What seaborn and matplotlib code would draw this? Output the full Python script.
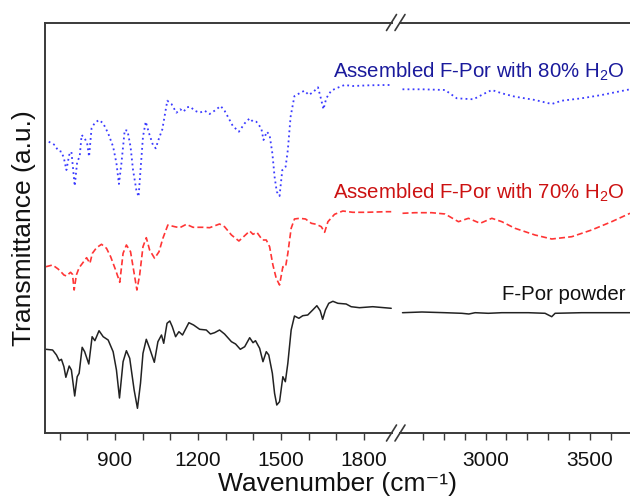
import numpy as np
import pandas as pd
import matplotlib
matplotlib.use("Agg")
import matplotlib.pyplot as plt
from matplotlib.lines import Line2D
import seaborn as sns

# ---------------- data (wavenumber cm^-1, transmittance a.u. with offsets) ----------------
# F-Por powder (black, solid)
wn_black_lo = [650, 674, 688, 698, 706, 715, 722, 734, 742, 754, 763, 770, 781, 790, 805, 817, 827, 842,
               857, 875, 893, 905, 916, 929, 941, 953, 969, 981, 992, 1001, 1013, 1025, 1042, 1055, 1068,
               1076, 1088, 1098, 1107, 1119, 1131, 1144, 1167, 1184, 1206, 1230, 1245, 1260, 1278, 1296,
               1321, 1336, 1353, 1369, 1387, 1399, 1408, 1423, 1435, 1447, 1456, 1469, 1477, 1485, 1495,
               1507, 1516, 1525, 1537, 1549, 1565, 1579, 1597, 1615, 1630, 1642, 1651, 1661, 1673, 1688,
               1706, 1736, 1754, 1784, 1832, 1899]
t_black_lo = [83.7, 83, 78, 72.3, 73.7, 66.3, 55.7, 67, 63, 37, 56.3, 59.7, 85.7, 81.3, 69, 96.3, 92.3, 102.3,
              96.3, 93, 81.3, 63, 35, 71.3, 82.3, 74.7, 43, 24.7, 49.7, 79.7, 93.7, 84.7, 70.7, 91.3, 98,
              89.7, 109.7, 112, 106.3, 96.3, 101.3, 98, 110.3, 108, 103.7, 103, 99, 100.3, 103, 99,
              91.3, 89, 83.7, 86.3, 95.3, 90.3, 92.3, 84.7, 71.3, 81.3, 78, 59.7, 39.7, 28, 31.3,
              56.3, 51.3, 69.7, 103, 117, 114.7, 117.3, 118, 123, 127.3, 122.3, 113.7, 123, 129.7, 131.7,
              129.7, 129, 126.3, 125.3, 126.3, 124.7]
wn_black_hi = [2602, 2695, 2806, 2886, 2920, 2950, 3013, 3078, 3205, 3285, 3317, 3333, 3460, 3588, 3692]
t_black_hi = [120.3, 121, 120.3, 119.7, 119.0, 120.3, 119.7, 120.3, 120.3, 119.7, 116.3, 119.7, 120.3, 120.3, 120.3]

# Assembled F-Por with 70% H2O (red, dashed)
wn_red_lo = [650, 674, 694, 706, 715, 724, 739, 746, 752, 760, 770, 782, 797, 809, 818, 833, 851, 869, 884,
             902, 917, 929, 941, 956, 969, 979, 989, 1001, 1013, 1025, 1043, 1059, 1073, 1091, 1116, 1134,
             1158, 1182, 1218, 1242, 1278, 1296, 1321, 1348, 1365, 1387, 1399, 1413, 1433, 1447, 1459,
             1471, 1483, 1495, 1507, 1517, 1525, 1537, 1549, 1567, 1589, 1610, 1628, 1646, 1658, 1670,
             1694, 1724, 1760, 1808, 1881, 1899]
t_red_lo = [166.3, 168, 164, 160.7, 158, 157, 160.7, 158.7, 143, 158, 165.3, 169.7, 175.3, 169.7, 179.7,
            185.3, 188.7, 184.7, 176.3, 163, 150.7, 179.7, 188, 181.3, 159.7, 143, 158, 186.3, 195.3, 183,
            174.7, 181.3, 194.7, 208, 206.3, 205.3, 208.7, 205.7, 205.7, 205.3, 209, 206.3, 198, 192,
            196.3, 202, 198.7, 200.7, 193, 193, 186.3, 168, 154.7, 148, 166.3, 166.3, 179.7, 204.7, 214,
            214.7, 214, 209.7, 208.7, 206.3, 200.7, 211.3, 218.7, 222, 220.7, 220.7, 221.3, 221.3]
wn_red_hi = [2602, 2662, 2742, 2806, 2870, 2918, 2974, 3030, 3078, 3141, 3237, 3317, 3413, 3508, 3604, 3692]
t_red_hi = [219.7, 220.3, 220.3, 219, 211.3, 214.7, 209.7, 214.7, 211.3, 204.7, 198, 194, 196.3, 203,
            211.3, 219.7]

# Assembled F-Por with 80% H2O (blue, dotted)
wn_blue_lo = [660, 682, 694, 706, 715, 724, 734, 742, 748, 754, 763, 772, 779, 790, 799, 806, 815, 827, 842,
              857, 875, 893, 905, 914, 923, 935, 945, 956, 965, 977, 985, 993, 1001, 1011, 1023, 1037,
              1047, 1059, 1071, 1081, 1089, 1104, 1122, 1136, 1148, 1160, 1172, 1188, 1206, 1224, 1242,
              1260, 1282, 1296, 1308, 1326, 1348, 1369, 1387, 1399, 1411, 1429, 1437, 1449, 1459, 1469,
              1477, 1485, 1495, 1505, 1517, 1525, 1535, 1549, 1567, 1585, 1601, 1618, 1634, 1643, 1654,
              1664, 1682, 1700, 1730, 1760, 1820, 1881, 1899]
t_blue_lo = [291.3, 288, 282.3, 281.3, 274.7, 263, 278, 281.3, 264.7, 247, 271.3, 276.3, 298, 294.7, 289.7,
             276.3, 304.7, 310.3, 313, 309.7, 299.7, 286.3, 269.7, 249, 269.7, 303, 302.3, 286.3, 263, 243,
             236.3, 266.3, 296.3, 311.3, 299.7, 288, 284.7, 294.7, 303.7, 319.7, 332.3, 329, 320.3, 323.7,
             321.3, 325.7, 326.3, 322.3, 320.3, 322.3, 319, 322.3, 327, 322.3, 316.3, 307, 301.3, 309.7,
             314.7, 311.3, 311.3, 304.7, 293, 301.3, 298, 279.7, 256.3, 241.3, 237, 263, 266.3, 283,
             316.3, 337, 339.7, 342.3, 338, 341.3, 345.7, 336.3, 323.7, 334.7, 342.3, 344.7, 348, 347,
             347.7, 348, 348]
wn_blue_hi = [2602, 2695, 2806, 2862, 2942, 2990, 3030, 3078, 3141, 3237, 3317, 3365, 3460, 3556, 3692]
t_blue_hi = [343.7, 343.7, 343, 334.7, 333.7, 339, 343, 339.7, 336.3, 333, 329, 332.3, 334.7, 338, 343.7]

major_lo = [900, 1200, 1500, 1800]
minor_lo = [700, 800, 1000, 1100, 1300, 1400, 1600, 1700]
major_hi = [3000, 3500]
minor_hi = [2700, 2800, 2900, 3100, 3200, 3300, 3400, 3600]

labels = ["F-Por powder", "Assembled F-Por with 70% H$_2$O", "Assembled F-Por with 80% H$_2$O"]
text_colors = ["#111111", "#cc1111", "#1a1a9c"]

# ---------------- style ----------------
sns.set_theme(style="white")
plt.rcParams["font.family"] = ["Liberation Sans", "DejaVu Sans"]
plt.rcParams["mathtext.fontset"] = "custom"
plt.rcParams["mathtext.rm"] = "Liberation Sans"
plt.rcParams["mathtext.it"] = "Liberation Sans:italic"
plt.rcParams["mathtext.bf"] = "Liberation Sans:bold"
plt.rcParams["mathtext.default"] = "regular"

W, H = 630, 501
fig = plt.figure(figsize=(W / 100, H / 100), dpi=100)
fig.patch.set_facecolor("white")

y_top, y_bot = 22.5, 433
def box(x0, x1):
    return [x0 / W, 1 - y_bot / H, (x1 - x0) / W, (y_bot - y_top) / H]

axL = fig.add_axes(box(45.4, 391.5))
axR = fig.add_axes(box(400, 630))

series = [
    (wn_black_lo, t_black_lo, wn_black_hi, t_black_hi, "#222222", "-", 1.1),
    (wn_red_lo, t_red_lo, wn_red_hi, t_red_hi, "#ff3535", (0, (3.6, 1.9)), 1.2),
    (wn_blue_lo, t_blue_lo, wn_blue_hi, t_blue_hi, "#3a3aff", (0, (1.0, 1.8)), 1.3),
]
for xl, yl, xh, yh, c, ls, lw in series:
    sns.lineplot(x=xl, y=yl, ax=axL, color=c, linestyle=ls, linewidth=lw, sort=False, estimator=None)
    sns.lineplot(x=xh, y=yh, ax=axR, color=c, linestyle=ls, linewidth=lw, sort=False, estimator=None)

spine_c = "#3a3a3a"
for ax, xlim, maj, mnr in [(axL, (648, 1900), major_lo, minor_lo), (axR, (2590, 3692), major_hi, minor_hi)]:
    ax.set_xlim(*xlim)
    ax.set_ylim(0, 410.5)
    ax.set_facecolor("white")
    ax.set_xticks(maj)
    ax.set_xticks(mnr, minor=True)
    ax.set_yticks([])
    ax.tick_params(axis="x", which="both", direction="out", length=5, width=1.0, color=spine_c,
                   labelsize=15, pad=8, bottom=True, top=False, labelcolor="#111111")
    ax.set_xlabel("")
    ax.set_ylabel("")
    for s in ax.spines.values():
        s.set_color(spine_c)
        s.set_linewidth(1.4)
    ax.spines["right"].set_visible(False)
axR.spines["left"].set_visible(False)

axL.set_ylabel("Transmittance (a.u.)", fontsize=19, labelpad=7, color="#111111")

fig.text(337.7 / W, 1 - 491 / H, "Wavenumber (cm\u207b\u00b9)", ha="center", va="baseline",
         fontsize=19, color="#111111", family=["Liberation Sans", "DejaVu Sans"])

# axis-break marks
for cx in (391.5, 400):
    for cy in (y_bot, y_top):
        fig.add_artist(Line2D([(cx - 5) / W, (cx + 5) / W], [1 - (cy + 8) / H, 1 - (cy - 8) / H],
                              transform=fig.transFigure, color=spine_c, lw=1.2))

# curve labels
for lab, col, base in zip(labels, text_colors, [300, 199, 78]):
    fig.text(625 / W, 1 - base / H, lab, ha="right", va="baseline", fontsize=14.7, color=col)

fig.savefig("out.png", dpi=100, facecolor="white")
